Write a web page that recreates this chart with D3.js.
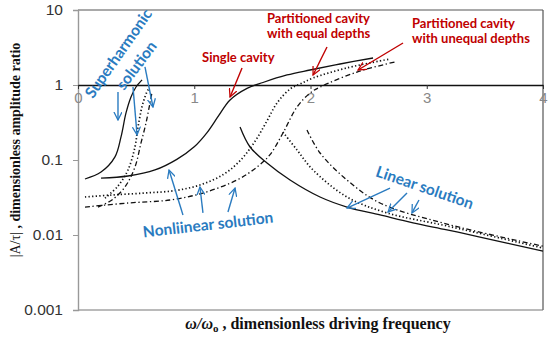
<!DOCTYPE html>
<html lang="en">
<head>
  <meta charset="UTF-8">
  <title>Amplitude ratio vs driving frequency</title>
  <style>
    body { margin: 0; background: #fff; }
    svg { display: block; }
    .tick text { font-family: "Liberation Sans", Arial, sans-serif; }
    .ann-blue { font-family: Lato, "Open Sans", sans-serif; font-weight: bold; fill: #2a7bc0; font-size: 15.5px; }
    .ann-red { font-family: Lato, "Open Sans", sans-serif; font-weight: bold; fill: #c00000; font-size: 13px; }
  </style>
</head>
<body>
<svg width="550" height="337"></svg>

<script src="https://d3js.org/d3.v7.min.js"></script>
<script>
  // [omega/omega0, |A/tau|]
  const superSolid = [[0.06,0.0558],[0.198,0.069],[0.318,0.110],[0.370,0.203],[0.413,0.424],[0.456,0.692],[0.499,0.94],[0.551,1.17]];
  const superDotted = [[0.232,0.031],[0.344,0.045],[0.430,0.0736],[0.490,0.149],[0.516,0.275],[0.559,0.575],[0.602,0.858],[0.619,0.912]];
  const superDashDot = [[0.172,0.0236],[0.292,0.0293],[0.404,0.0437],[0.490,0.0806],[0.542,0.169],[0.585,0.311],[0.619,0.575],[0.637,0.807]];

  const singleNonlinear = [[0.198,0.0575],[0.430,0.0612],[0.662,0.0736],[0.850,0.102],[1.000,0.150],[1.110,0.232],[1.210,0.390],[1.308,0.631],[1.454,0.900],[1.591,1.08],[1.798,1.36],[1.996,1.585],[2.254,1.905],[2.538,2.29]];
  const equalNonlinear = [[0.06,0.0321],[0.284,0.0341],[0.576,0.0363],[0.830,0.0390],[1.049,0.0464],[1.250,0.0640],[1.400,0.100],[1.520,0.175],[1.620,0.320],[1.712,0.575],[1.824,0.885],[1.910,1.03],[2.022,1.24],[2.314,1.69],[2.684,2.22]];
  const unequalNonlinear = [[0.06,0.0236],[0.430,0.0267],[0.791,0.0293],[1.075,0.0363],[1.368,0.0541],[1.540,0.0806],[1.652,0.118],[1.763,0.229],[1.884,0.509],[1.996,0.782],[2.082,0.94],[2.400,1.49],[2.727,2.03]];

  const singleLinear = [[1.394,0.275],[1.480,0.149],[1.626,0.0912],[1.824,0.0541],[2.082,0.0321],[2.314,0.0236],[2.598,0.0185],[2.882,0.0145],[3.174,0.0117],[3.458,0.0094],[4.0,0.0061]];
  const equalLinear = [[1.763,0.236],[1.884,0.136],[2.022,0.0736],[2.314,0.0321],[2.658,0.0197],[3.174,0.0132],[4.0,0.0067]];
  const unequalLinear = [[1.970,0.251],[2.082,0.124],[2.314,0.0541],[2.598,0.0267],[3.174,0.0140],[4.0,0.0071]];

  const xTicks = [0, 1, 2, 3, 4];
  const yTicks = [0.001, 0.01, 0.1, 1, 10];
  const yTickLabels = ["0.001", "0.01", "0.1", "1", "10"];

  const svg = d3.select("svg");
  const mLeft = 78, mRight = 543, mTop = 10, mBottom = 310;

  const x = d3.scaleLinear().domain([0, 4]).range([mLeft, mRight]);
  const y = d3.scaleLog().domain([0.001, 10]).range([mBottom, mTop]);

  // markers
  const defs = svg.append("defs");
  [["arrowBlue", "#2a7bc0"], ["arrowRed", "#c00000"]].forEach(([id, col]) => {
    defs.append("marker")
      .attr("id", id)
      .attr("viewBox", "0 0 10 10")
      .attr("refX", 9)
      .attr("refY", 5)
      .attr("markerUnits", "userSpaceOnUse")
      .attr("markerWidth", 9)
      .attr("markerHeight", 9)
      .attr("orient", "auto")
      .append("path")
      .attr("d", "M 0 0.5 L 9 5 L 0 9.5")
      .attr("fill", "none")
      .attr("stroke", col)
      .attr("stroke-width", 1.4);
  });

  // frame
  svg.append("line").attr("x1", mLeft).attr("x2", mRight).attr("y1", mTop).attr("y2", mTop)
    .attr("stroke", "#555").attr("stroke-width", 1.2);
  svg.append("line").attr("x1", mRight).attr("x2", mRight).attr("y1", mTop).attr("y2", mBottom)
    .attr("stroke", "#555").attr("stroke-width", 1.2);
  svg.append("line").attr("x1", mLeft).attr("x2", mRight).attr("y1", mBottom).attr("y2", mBottom)
    .attr("stroke", "#777").attr("stroke-width", 1.2);

  // y axis
  const yAxis = svg.append("g")
    .attr("transform", `translate(${mLeft},0)`)
    .call(d3.axisLeft(y).tickValues(yTicks).tickSize(5).tickPadding(10)
      .tickFormat((d, i) => yTickLabels[i]));
  yAxis.select(".domain").attr("stroke", "#999").attr("stroke-width", 1.4);
  yAxis.selectAll(".tick line").attr("stroke", "#999");
  yAxis.selectAll(".tick text").attr("font-size", "15.5px").attr("fill", "#333");

  // x axis drawn at ratio = 1
  const xAxis = svg.append("g")
    .attr("transform", `translate(0,${y(1)})`)
    .call(d3.axisBottom(x).tickValues(xTicks).tickSize(4).tickSizeOuter(0).tickPadding(3)
      .tickFormat(d3.format("d")));
  xAxis.select(".domain").attr("stroke", "#111").attr("stroke-width", 1.4);
  xAxis.selectAll(".tick line").attr("stroke", "#333");
  xAxis.selectAll(".tick text").attr("font-size", "15px").attr("fill", "#888");

  // curves
  const line = d3.line()
    .x(d => x(d[0]))
    .y(d => y(d[1]))
    .curve(d3.curveCatmullRom.alpha(0.5));

  const styles = {
    solid: null,
    dotted: "1.3,2.3",
    dashdot: "5,2.6,1.3,2.6"
  };

  const series = [
    { data: superSolid, style: "solid" },
    { data: superDotted, style: "dotted" },
    { data: superDashDot, style: "dashdot" },
    { data: singleNonlinear, style: "solid" },
    { data: equalNonlinear, style: "dotted" },
    { data: unequalNonlinear, style: "dashdot" },
    { data: singleLinear, style: "solid" },
    { data: equalLinear, style: "dotted" },
    { data: unequalLinear, style: "dashdot" }
  ];

  svg.append("g").selectAll("path")
    .data(series)
    .join("path")
    .attr("d", d => line(d.data))
    .attr("fill", "none")
    .attr("stroke", "#111")
    .attr("stroke-width", d => d.style === "dotted" ? 1.7 : 1.3)
    .attr("stroke-dasharray", d => styles[d.style]);

  // annotation arrows, in data coordinates [from, to]
  const blueArrows = [
    [[0.344, 0.807], [0.344, 0.341]],
    [[0.473, 0.94], [0.508, 0.216]],
    [[0.576, 1.74], [0.645, 0.509]],
    [[0.903, 0.0185], [0.783, 0.0736]],
    [[1.075, 0.0197], [1.049, 0.0437]],
    [[1.290, 0.0203], [1.351, 0.0423]],
    [[2.684, 0.0423], [2.314, 0.0229]],
    [[2.830, 0.0363], [2.667, 0.0203]],
    [[2.933, 0.0293], [2.873, 0.0197]]
  ];
  const redArrows = [
    [[1.411, 1.69], [1.308, 0.692]],
    [[2.142, 3.21], [2.022, 1.36]],
    [[2.796, 3.63], [2.409, 1.585]]
  ];

  function drawArrows(list, col, marker) {
    svg.append("g").selectAll("line")
      .data(list)
      .join("line")
      .attr("x1", d => x(d[0][0])).attr("y1", d => y(d[0][1]))
      .attr("x2", d => x(d[1][0])).attr("y2", d => y(d[1][1]))
      .attr("stroke", col)
      .attr("stroke-width", 1.4)
      .attr("marker-end", `url(#${marker})`);
  }
  drawArrows(blueArrows, "#2a7bc0", "arrowBlue");
  drawArrows(redArrows, "#c00000", "arrowRed");

  // blue labels: [text, omega, ratio, rotation]
  const blueLabels = [
    ["Superharmonic", 0.344, 2.67, -55],
    ["solution", 0.499, 1.85, -53],
    ["Nonliinear solution", 1.118, 0.0140, -6.5],
    ["Linear solution", 2.985, 0.0436, 19]
  ];
  svg.append("g").selectAll("text")
    .data(blueLabels)
    .join("text")
    .attr("class", "ann-blue")
    .attr("text-anchor", "middle")
    .attr("dominant-baseline", "central")
    .attr("transform", d => `translate(${x(d[1])},${y(d[2])}) rotate(${d[3]})`)
    .text(d => d[0]);

  // red labels: [text, omega, ratio] (left aligned, baseline)
  const redLabels = [
    ["Single cavity", 1.067, 2.03],
    ["Partitioned cavity", 1.626, 6.71],
    ["with equal depths", 1.626, 4.23],
    ["Partitioned cavity", 2.873, 5.75],
    ["with unequal depths", 2.873, 3.63]
  ];
  svg.append("g").selectAll("text")
    .data(redLabels)
    .join("text")
    .attr("class", "ann-red")
    .attr("x", d => x(d[1]))
    .attr("y", d => y(d[2]))
    .text(d => d[0]);

  // axis titles
  const xt = svg.append("text")
    .attr("x", 318)
    .attr("y", 329)
    .attr("text-anchor", "middle")
    .attr("font-family", "'Liberation Serif', 'Times New Roman', serif")
    .attr("font-weight", "bold")
    .attr("font-size", "16px")
    .attr("fill", "#111");
  xt.append("tspan").attr("font-style", "italic").text("ω/ω");
  xt.append("tspan").attr("font-size", "11px").attr("dy", 3).text("o");
  xt.append("tspan").attr("dy", -3).text(" , dimensionless driving frequency");

  const yt = svg.append("text")
    .attr("transform", "translate(20,150) rotate(-90)")
    .attr("text-anchor", "middle")
    .attr("font-family", "'Liberation Serif', 'Times New Roman', serif")
    .attr("font-size", "14px")
    .attr("fill", "#111");
  yt.append("tspan").text("|A/τ|");
  yt.append("tspan").attr("font-weight", "bold").text(" , dimensionless amplitude ratio");
</script>

</body>
</html>
